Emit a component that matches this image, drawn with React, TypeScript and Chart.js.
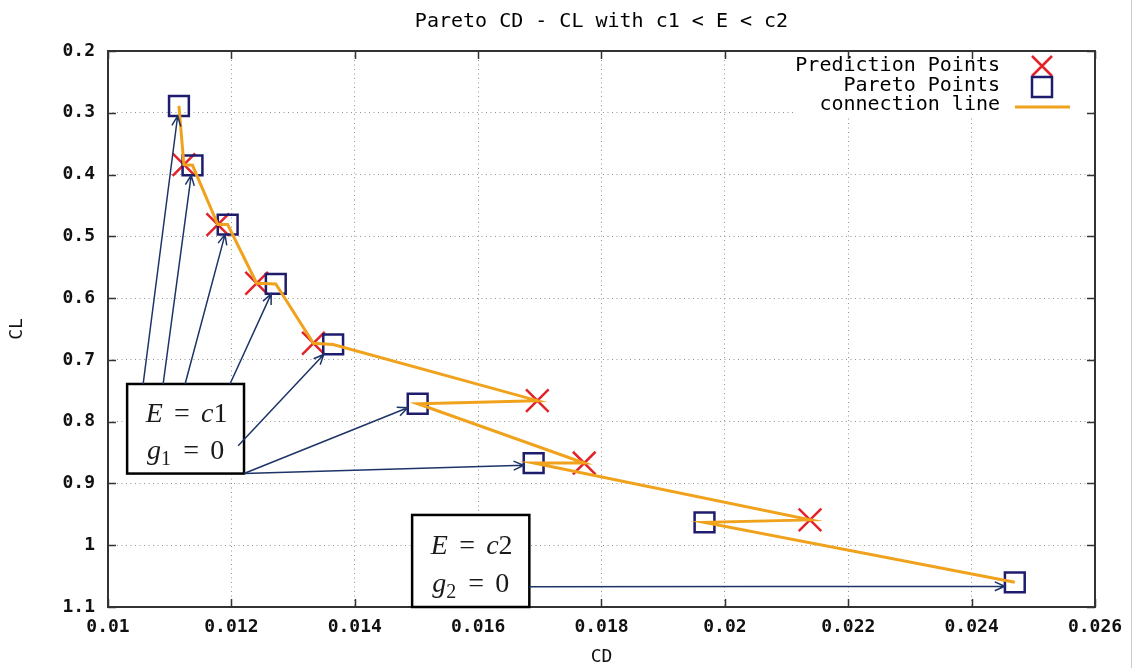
import React, { useEffect, useRef } from "react";
import { Chart, registerables } from "chart.js";

Chart.register(...registerables);

// Pareto front (CD, CL)
const paretoCD = [0.01115, 0.01137, 0.01194, 0.01272, 0.01365, 0.01502, 0.0169, 0.01967, 0.0247];
const paretoCL = [0.289, 0.385, 0.481, 0.577, 0.675, 0.771, 0.867, 0.963, 1.06];

// Predicted points (CD, CL)
const predictionCD = [0.01123, 0.01178, 0.01241, 0.01333, 0.01696, 0.01772, 0.02138];
const predictionCL = [0.384, 0.481, 0.576, 0.673, 0.766, 0.867, 0.959];

const xTickValues = [0.01, 0.012, 0.014, 0.016, 0.018, 0.02, 0.022, 0.024, 0.026];
const yTickValues = [0.2, 0.3, 0.4, 0.5, 0.6, 0.7, 0.8, 0.9, 1.0, 1.1];

const seriesLabels = ["Prediction Points", "Pareto Points", "connection line"];
const chartTitle = "Pareto CD - CL with c1 < E < c2";
const xTitle = "CD";
const yTitle = "CL";

type MathPart = { t: string; italic?: boolean; sub?: boolean };
type NoteArrow = { to: number; fx: number; fy: number; aimY?: number };
type NoteBox = { cd: [number, number]; cl: [number, number]; lines: MathPart[][]; arrows: NoteArrow[] };

// Constraint annotations, placed in data units; arrows point at Pareto points
const noteBoxes: NoteBox[] = [
  {
    cd: [0.01031, 0.012205],
    cl: [0.739, 0.884],
    lines: [
      [{ t: "E", italic: true }, { t: "=" }, { t: "c", italic: true }, { t: "1" }],
      [{ t: "g", italic: true }, { t: "1", sub: true }, { t: "=" }, { t: "0" }],
    ],
    arrows: [
      { to: 0, fx: 0.137, fy: 0 },
      { to: 1, fx: 0.308, fy: 0 },
      { to: 2, fx: 0.496, fy: 0 },
      { to: 3, fx: 0.88, fy: 0 },
      { to: 4, fx: 0.95, fy: 0.69 },
      { to: 5, fx: 1, fy: 1 },
      { to: 6, fx: 1, fy: 1, aimY: 2 },
    ],
  },
  {
    cd: [0.01493, 0.01683],
    cl: [0.951, 1.1],
    lines: [
      [{ t: "E", italic: true }, { t: "=" }, { t: "c", italic: true }, { t: "2" }],
      [{ t: "g", italic: true }, { t: "2", sub: true }, { t: "=" }, { t: "0" }],
    ],
    arrows: [{ to: 8, fx: 1, fy: 0.78, aimY: 4 }],
  },
];

const MONO = '"DejaVu Sans Mono", "Liberation Mono", monospace';
const SERIF = '"Liberation Serif", "DejaVu Serif", serif';
const RED = "#e2232a";
const NAVY = "#1f1c6e";
const ORANGE = "#f0a21c";
const ARROW = "#1d3468";
const FRAME = "#333333";

const fmtTick = (v: number | string) => String(+Number(v).toFixed(4));

function drawMathLine(ctx: CanvasRenderingContext2D, parts: MathPart[], cx: number, baseline: number, size: number) {
  const gap = size * 0.4;
  const fontFor = (p: MathPart) => `${p.italic ? "italic " : ""}${p.sub ? Math.round(size * 0.72) : size}px ${SERIF}`;
  const widths = parts.map((p) => {
    ctx.font = fontFor(p);
    const w = ctx.measureText(p.t).width;
    return p.t === "=" ? w + 2 * gap : w + (p.sub ? 1 : 0);
  });
  const total = widths.reduce((a, b) => a + b, 0);
  let x = cx - total / 2;
  ctx.textAlign = "left";
  ctx.textBaseline = "alphabetic";
  parts.forEach((p, i) => {
    ctx.font = fontFor(p);
    const dx = p.t === "=" ? gap : 0;
    ctx.fillText(p.t, x + dx, p.sub ? baseline + size * 0.22 : baseline);
    x += widths[i];
  });
}

function drawArrow(ctx: CanvasRenderingContext2D, x1: number, y1: number, x2: number, y2: number) {
  const ang = Math.atan2(y2 - y1, x2 - x1);
  const L = 11;
  const a = 0.42;
  ctx.beginPath();
  ctx.moveTo(x1, y1);
  ctx.lineTo(x2, y2);
  ctx.moveTo(x2 - L * Math.cos(ang - a), y2 - L * Math.sin(ang - a));
  ctx.lineTo(x2, y2);
  ctx.lineTo(x2 - L * Math.cos(ang + a), y2 - L * Math.sin(ang + a));
  ctx.stroke();
}

const decorPlugin = {
  id: "paretoDecor",
  beforeDatasetsDraw(chart: any) {
    const { ctx, chartArea } = chart;
    // opaque key backdrop
    ctx.save();
    ctx.fillStyle = "#ffffff";
    ctx.fillRect(chartArea.right - 300, chartArea.top + 1, 296, 66);
    ctx.restore();
  },
  afterDatasetsDraw(chart: any) {
    const { ctx, chartArea, scales } = chart;
    const xs = scales.x;
    const ys = scales.y;
    const { left, right, top, bottom } = chartArea;
    ctx.save();

    // frame
    ctx.strokeStyle = FRAME;
    ctx.lineWidth = 2;
    ctx.strokeRect(left, top, right - left, bottom - top);

    // inward tick marks on all four sides
    ctx.lineWidth = 1.5;
    ctx.beginPath();
    xTickValues.forEach((v) => {
      const px = Math.round(xs.getPixelForValue(v)) + 0.5;
      ctx.moveTo(px, bottom);
      ctx.lineTo(px, bottom - 8);
      ctx.moveTo(px, top);
      ctx.lineTo(px, top + 8);
    });
    yTickValues.forEach((v) => {
      const py = Math.round(ys.getPixelForValue(v)) + 0.5;
      ctx.moveTo(left, py);
      ctx.lineTo(left + 8, py);
      ctx.moveTo(right, py);
      ctx.lineTo(right - 8, py);
    });
    ctx.stroke();

    // annotation boxes with arrows to the Pareto points
    noteBoxes.forEach((nb) => {
      const bx0 = xs.getPixelForValue(nb.cd[0]);
      const bx1 = xs.getPixelForValue(nb.cd[1]);
      const by0 = ys.getPixelForValue(nb.cl[0]);
      const by1 = ys.getPixelForValue(nb.cl[1]);
      const w = bx1 - bx0;
      const h = by1 - by0;
      ctx.fillStyle = "#ffffff";
      ctx.fillRect(bx0, by0, w, h);
      ctx.strokeStyle = "#000000";
      ctx.lineWidth = 2.5;
      ctx.strokeRect(bx0, by0, w, h);
      ctx.fillStyle = "#1a1a1a";
      drawMathLine(ctx, nb.lines[0], bx0 + w / 2 + 1, by0 + h * 0.42, 28);
      drawMathLine(ctx, nb.lines[1], bx0 + w / 2, by0 + h * 0.84, 28);

      ctx.strokeStyle = ARROW;
      ctx.lineWidth = 1.5;
      nb.arrows.forEach((ar) => {
        const sx = bx0 + w * ar.fx;
        const sy = by0 + h * ar.fy;
        const cx = xs.getPixelForValue(paretoCD[ar.to]);
        const cy = ys.getPixelForValue(paretoCL[ar.to]) + (ar.aimY || 0);
        const dx = cx - sx;
        const dy = cy - sy;
        const t = 10 / Math.max(Math.abs(dx), Math.abs(dy));
        drawArrow(ctx, sx, sy, cx - dx * t, cy - dy * t);
      });
    });

    // key
    const textRight = right - 95;
    const symX = right - 53;
    const rows = [top + 15, top + 35, top + 54];
    ctx.font = `20px ${MONO}`;
    ctx.fillStyle = "#000000";
    ctx.textAlign = "right";
    ctx.textBaseline = "middle";
    seriesLabels.forEach((label, i) => ctx.fillText(label, textRight, rows[i]));

    ctx.strokeStyle = RED;
    ctx.lineWidth = 2.5;
    ctx.beginPath();
    ctx.moveTo(symX - 10, rows[0] - 10);
    ctx.lineTo(symX + 10, rows[0] + 10);
    ctx.moveTo(symX - 10, rows[0] + 10);
    ctx.lineTo(symX + 10, rows[0] - 10);
    ctx.stroke();

    ctx.strokeStyle = NAVY;
    ctx.strokeRect(symX - 10, rows[1] - 9, 20, 20);

    ctx.strokeStyle = ORANGE;
    ctx.lineWidth = 3;
    ctx.beginPath();
    ctx.moveTo(right - 80, rows[2] + 2);
    ctx.lineTo(right - 25, rows[2] + 2);
    ctx.stroke();

    ctx.restore();
  },
  afterDraw(chart: any) {
    const { ctx, width, height } = chart;
    ctx.save();
    ctx.strokeStyle = "#c6cbd3";
    ctx.lineWidth = 1;
    ctx.beginPath();
    ctx.moveTo(width - 4.5, 0);
    ctx.lineTo(width - 4.5, height);
    ctx.stroke();
    ctx.restore();
  },
};

export default function App() {
  const canvasRef = useRef<HTMLCanvasElement | null>(null);

  useEffect(() => {
    document.body.style.margin = "0";
    const canvas = canvasRef.current;
    if (!canvas) return;

    const pareto = paretoCD.map((x, i) => ({ x, y: paretoCL[i] }));
    const prediction = predictionCD.map((x, i) => ({ x, y: predictionCL[i] }));
    // connection path: each Pareto point, then its prediction, then the next Pareto point
    const connection: { x: number; y: number }[] = [];
    pareto.forEach((p, i) => {
      connection.push(p);
      if (i < prediction.length) connection.push(prediction[i]);
    });

    const tickFont = { family: MONO, size: 18, weight: "bold" as const };
    const gridColor = "#949494";

    const chart = new Chart(canvas, {
      type: "scatter",
      data: {
        datasets: [
          {
            label: seriesLabels[0],
            data: prediction,
            pointStyle: "crossRot",
            pointRadius: 16,
            pointBorderWidth: 2.5,
            pointBorderColor: RED,
            pointBackgroundColor: RED,
            borderColor: RED,
            showLine: false,
            order: 2,
          },
          {
            label: seriesLabels[1],
            data: pareto,
            pointStyle: "rect",
            pointRadius: 14,
            pointBorderWidth: 2.5,
            pointBorderColor: NAVY,
            pointBackgroundColor: "rgba(0,0,0,0)",
            borderColor: NAVY,
            showLine: false,
            order: 1,
          },
          {
            label: seriesLabels[2],
            data: connection,
            showLine: true,
            borderColor: ORANGE,
            borderWidth: 3,
            pointRadius: 0,
            tension: 0,
            order: 0,
          },
        ],
      },
      options: {
        responsive: false,
        animation: false,
        devicePixelRatio: 1,
        events: [],
        layout: { padding: { left: 0, right: 41, top: 0, bottom: 0 } },
        plugins: {
          legend: { display: false },
          tooltip: { enabled: false },
          title: {
            display: true,
            text: chartTitle,
            fullSize: false,
            color: "#000000",
            font: { family: MONO, size: 20, weight: "normal" },
            padding: { top: 10, bottom: 17 },
          },
        },
        scales: {
          x: {
            type: "linear",
            min: 0.01,
            max: 0.026,
            afterBuildTicks: (s: any) => {
              s.ticks = xTickValues.map((value) => ({ value }));
            },
            afterFit: (s: any) => {
              s.height = 61;
            },
            ticks: {
              callback: (v: any) => fmtTick(v),
              color: "#111111",
              font: tickFont,
              padding: 10,
              maxRotation: 0,
              autoSkip: false,
            },
            grid: { color: gridColor, lineWidth: 1, drawTicks: false },
            border: { display: false, dash: [1, 3.5] },
            title: {
              display: true,
              text: xTitle,
              color: "#111111",
              font: { family: MONO, size: 18, weight: "normal" },
              padding: { top: 0, bottom: 0 },
            },
          },
          y: {
            type: "linear",
            min: 0.2,
            max: 1.1,
            reverse: true,
            afterBuildTicks: (s: any) => {
              s.ticks = yTickValues.map((value) => ({ value }));
            },
            afterFit: (s: any) => {
              s.width = 108;
            },
            ticks: {
              callback: (v: any) => fmtTick(v),
              color: "#111111",
              font: tickFont,
              padding: 13,
              autoSkip: false,
            },
            grid: { color: gridColor, lineWidth: 1, drawTicks: false },
            border: { display: false, dash: [1, 3.5] },
            title: {
              display: true,
              text: yTitle,
              color: "#111111",
              font: { family: MONO, size: 18, weight: "normal" },
              padding: { top: 7, bottom: 0 },
            },
          },
        },
      },
      plugins: [decorPlugin],
    });

    return () => chart.destroy();
  }, []);

  return (
    <div style={{ width: 1136, height: 668, background: "#ffffff" }}>
      <canvas ref={canvasRef} width={1136} height={668} style={{ display: "block" }} />
    </div>
  );
}
